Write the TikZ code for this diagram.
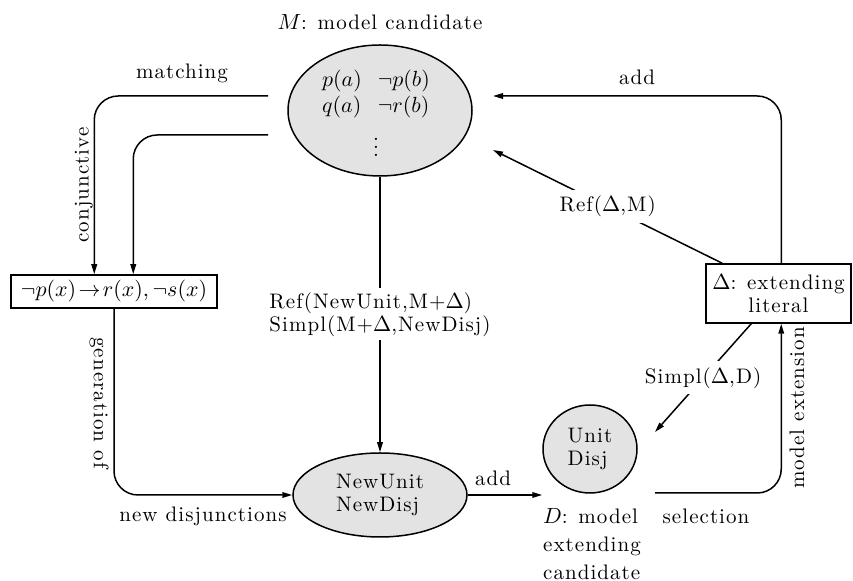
\documentclass[tikz,border=0pt]{standalone}
\usepackage{fontspec}
\setmainfont{Latin Modern Roman}[LetterSpace=5]
\usetikzlibrary{shapes.geometric,arrows.meta,calc}
\begin{document}
\begin{tikzpicture}[x=0.5pt,y=-0.5pt,
  every node/.style={font=\fontsize{10.5pt}{11.5pt}\selectfont},
  line/.style={line width=0.75pt},
  arr/.style={line, -{Stealth[length=5pt,width=2.8pt,inset=0pt]}},
  ell/.style={ellipse, draw, line width=0.75pt, fill=black!11, inner sep=0pt},
  boxnode/.style={rectangle, draw, line width=0.75pt, inner sep=0pt},
  lbl/.style={inner sep=1pt},
  rc/.style={rounded corners=12pt}]
\useasboundingbox (0,0) rectangle (853,581);

% nodes
\node[ell, minimum width=92pt, minimum height=65.5pt] (M) at (380,110.5) {};
\node[inner sep=0pt] (Mrows) at (376,95)
  {\begin{tabular}{@{}l@{\hspace{8pt}}l@{}}$p(a)$ & $\neg p(b)$\\[1.5pt] $q(a)$ & $\neg r(b)$\end{tabular}};
\node[inner sep=0pt] (Mdots) at (376,141) {$\vdots$};
\node[boxnode, minimum width=103pt, minimum height=16.5pt] (C) at (114,291.5)
  {$\neg p(x)\!\rightarrow\! r(x), \neg s(x)$};
\node[ell, minimum width=87pt, minimum height=42pt, align=left] (NU) at (380,495) {NewUnit\\NewDisj};
\node[ell, minimum width=47pt, minimum height=44pt, align=left] (U) at (590,449) {Unit\\Disj};
\node[boxnode, minimum width=72.5pt, minimum height=29.5pt, align=center] (D) at (778.5,293.5)
  {$\Delta$: extending\\literal};

% coordinates
\coordinate (m1) at (268,96);
\coordinate (m2) at (268,135);
\coordinate (a1) at (493,96);
\coordinate (r1) at (493,150);
\coordinate (s1) at (655,493);
\coordinate (d1) at (655,432);

% connectors
\draw[arr, rc] (m1) -| ([xshift=42pt]C.north west);
\draw[arr, rc] (m2) -| ([xshift=61.5pt]C.north west);
\draw[arr, rc] (C.south) |- (NU.west);
\draw[arr] (M.south) -- node[fill=white, align=left, inner sep=2pt]
  {Ref(NewUnit,M+$\Delta$)\\Simpl(M+$\Delta$,NewDisj)} (NU.north);
\draw[arr] (NU.east) -- (NU.east -| U.west);
\draw[arr, rc] (s1) -| ([xshift=38pt]D.south west);
\draw[arr, rc] ([xshift=38pt]D.north west) |- (a1);
\draw[arr] ([xshift=8.5pt]D.north west) -- node[fill=white, inner sep=3pt] {Ref($\Delta$,M)} (r1);
\draw[arr] ([xshift=23pt]D.south west) -- node[fill=white, inner sep=3pt] {Simpl($\Delta$,D)} (d1);

% labels
\node[lbl] at (380,22) {$M$: model candidate};
\node[lbl] at (182,73) {matching};
\node[lbl, rotate=90] at (84,185) {conjunctive};
\node[lbl, rotate=-90] at (99,403) {generation of};
\node[lbl] at (203,516) {new disjunctions};
\node[lbl] at (493,478) {add};
\node[lbl, align=left] at (592,544) {$D$: model\\[2.5pt]extending\\[2.5pt]candidate};
\node[lbl] at (706,516) {selection};
\node[lbl, rotate=90] at (797,408) {model extension};
\node[lbl] at (637,77) {add};
\end{tikzpicture}
\end{document}
